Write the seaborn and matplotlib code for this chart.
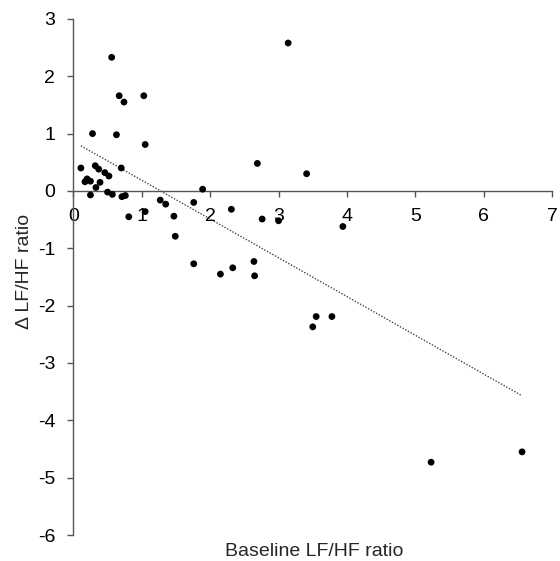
import matplotlib
matplotlib.use("Agg")
import matplotlib.pyplot as plt
import seaborn as sns
import pandas as pd

baseline = [0.56, 0.67, 0.74, 1.03, 0.28, 0.63, 1.05, 0.11, 0.70, 0.32,
            0.37, 0.46, 0.52, 0.17, 0.20, 0.25, 0.39, 0.33, 0.25, 0.50,
            0.57, 0.71, 0.76, 1.89, 2.69, 1.27, 1.35, 1.76, 1.05, 0.81,
            1.47, 2.31, 1.49, 3.14, 3.41, 2.76, 3.00, 3.94, 1.76, 2.15,
            2.33, 2.64, 2.65, 3.55, 3.78, 3.50, 5.23, 6.56]
delta = [2.33, 1.66, 1.55, 1.66, 1.00, 0.98, 0.81, 0.40, 0.40, 0.44,
         0.38, 0.32, 0.26, 0.16, 0.21, 0.17, 0.15, 0.06, -0.07, -0.02,
         -0.06, -0.10, -0.08, 0.03, 0.48, -0.16, -0.23, -0.20, -0.36, -0.45,
         -0.44, -0.32, -0.79, 2.58, 0.30, -0.49, -0.52, -0.62, -1.27, -1.45,
         -1.34, -1.23, -1.48, -2.19, -2.19, -2.37, -4.73, -4.55]
xticks = [0, 1, 2, 3, 4, 5, 6, 7]
yticks = [-6, -5, -4, -3, -2, -1, 0, 1, 2, 3]

df = pd.DataFrame({"baseline": baseline, "delta": delta})

sns.set_style("white")
plt.rcParams["font.family"] = ["Liberation Sans", "DejaVu Sans"]

fig = plt.figure(figsize=(5.6, 5.61), dpi=100)
ax = fig.add_axes([0.131, 0.0463, 0.855, 0.92])

sns.scatterplot(data=df, x="baseline", y="delta", ax=ax, color="black",
                s=24, edgecolor="none", zorder=3)
sns.regplot(data=df, x="baseline", y="delta", ax=ax, scatter=False, ci=None,
            line_kws=dict(color="#444444", lw=1.0, ls=(0, (1, 1.2))))

ax.set_xlim(0, 7)
ax.set_ylim(-6, 3)
ax.set_xticks(xticks)
ax.set_yticks(yticks)
ax.set_xticklabels([str(t) for t in xticks])
ax.set_yticklabels([str(t) for t in yticks])

for s in ["top", "right"]:
    ax.spines[s].set_visible(False)
ax.spines["bottom"].set_position(("data", 0))
for s in ["left", "bottom"]:
    ax.spines[s].set_color("#555555")
    ax.spines[s].set_linewidth(1.0)

ax.tick_params(axis="both", direction="out", length=4.5, width=1.0,
               color="#555555", labelsize=14, labelcolor="black")
ax.tick_params(axis="x", bottom=True, pad=8)
ax.tick_params(axis="y", left=True, pad=8.5)

ax.set_xlabel("Baseline LF/HF ratio", fontsize=14)
ax.set_ylabel("Δ LF/HF ratio", fontsize=14)
ax.xaxis.set_label_coords(0.502, -0.0155)
ax.yaxis.set_label_coords(-0.103, 0.51)
ax.yaxis.label.set_va("center")
ax.xaxis.label.set_va("top")

fig.savefig("out.png", dpi=100)
